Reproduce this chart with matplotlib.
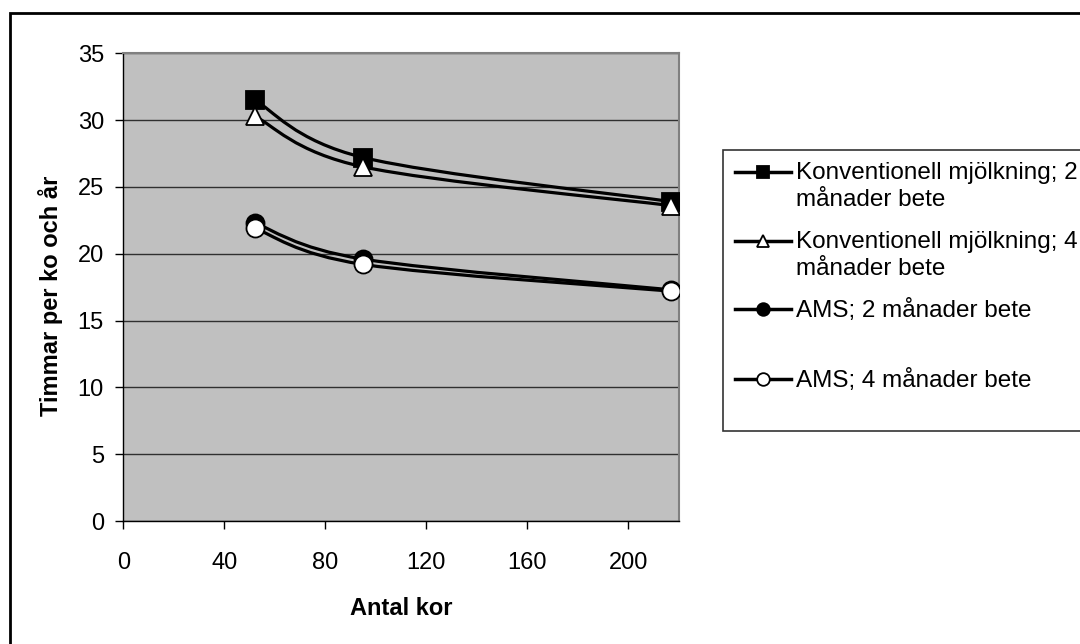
import numpy as np
import matplotlib
matplotlib.use("Agg")
import matplotlib.pyplot as plt
from matplotlib.path import Path
from matplotlib.patches import PathPatch, Rectangle
from matplotlib.lines import Line2D

plt.rcParams["font.family"] = ["Liberation Sans", "DejaVu Sans"]

# data
antal_kor = [52, 95, 217]
konv_2 = [31.5, 27.2, 23.9]
konv_4 = [30.3, 26.5, 23.6]
ams_2 = [22.3, 19.6, 17.3]
ams_4 = [21.9, 19.2, 17.2]

labels = [
    "Konventionell mjölkning; 2\nmånader bete",
    "Konventionell mjölkning; 4\nmånader bete",
    "AMS; 2 månader bete\n ",
    "AMS; 4 månader bete\n ",
]
markers = ["s", "^", "o", "o"]
faces = ["black", "white", "black", "white"]

x_ticks = [0, 40, 80, 120, 160, 200]
y_ticks = [0, 5, 10, 15, 20, 25, 30, 35]


def smooth_path(xs, ys):
    # Excel-like smoothed line: cubic Bezier through the points
    pts = np.column_stack([xs, ys]).astype(float)
    ext = np.vstack([pts[0], pts, pts[-1]])
    verts = [pts[0]]
    codes = [Path.MOVETO]
    for i in range(len(pts) - 1):
        p0, p1, p2, p3 = ext[i], ext[i + 1], ext[i + 2], ext[i + 3]
        verts += [p1 + (p2 - p0) / 6, p2 - (p3 - p1) / 6, p2]
        codes += [Path.CURVE4] * 3
    return Path(verts, codes)


def main():
    W, H = 1080, 644
    fig = plt.figure(figsize=(W / 100, H / 100), dpi=100)
    left, right, top, bottom = 123.3, 679, 53.3, 521
    ax = fig.add_axes([left / W, 1 - bottom / H, (right - left) / W, (bottom - top) / H])
    ax.set_facecolor("#C0C0C0")

    series = [konv_2, konv_4, ams_2, ams_4]
    handles = []
    for i, ys in enumerate(series):
        patch = PathPatch(smooth_path(antal_kor, ys), fill=False, ec="black",
                          lw=2.3, zorder=3 + 2 * i)
        ax.add_patch(patch)
        ax.plot(antal_kor, ys, ls="none", marker=markers[i], ms=13,
                mfc=faces[i], mec="black", mew=1.3, zorder=4 + 2 * i)
        handles.append(Line2D([], [], color="black", lw=2.5, marker=markers[i],
                              ms=13, mfc=faces[i], mec="black", mew=1.3))

    ax.set_xlim(0, 220)
    ax.set_ylim(0, 35)
    ax.set_xticks(x_ticks)
    ax.set_yticks(y_ticks)
    ax.yaxis.grid(True, color="#303030", lw=1)
    ax.set_axisbelow(True)

    ax.tick_params(axis="both", direction="out", length=6, width=1, labelsize=17, colors="black")
    ax.tick_params(axis="x", pad=16)
    ax.tick_params(axis="y", pad=8)

    for side in ["left", "bottom"]:
        ax.spines[side].set_color("black")
        ax.spines[side].set_linewidth(1)
    for side in ["top", "right"]:
        ax.spines[side].set_color("#808080")
        ax.spines[side].set_linewidth(1.5)

    ax.set_xlabel("Antal kor", fontsize=17, fontweight="bold")
    ax.xaxis.set_label_coords(0.5, -0.163)
    ax.set_ylabel("Timmar per ko och år", fontsize=17, fontweight="bold")
    ax.yaxis.set_label_coords(-0.109, 0.482)

    leg = fig.legend(handles, labels, loc="upper left",
                     bbox_to_anchor=(723 / W, 1 - 150 / H), borderaxespad=0,
                     fontsize=17.5, frameon=True, fancybox=False, shadow=False,
                     handlelength=2.3, handletextpad=0.2, handleheight=1.1,
                     markerscale=0.7, labelspacing=0.8, borderpad=0.5)
    leg.get_frame().set_edgecolor("black")
    leg.get_frame().set_linewidth(1.2)
    for t in leg.get_texts():
        t.set_linespacing(1.3)
    # put the handle on the first text line, like the original
    for col in leg._legend_handle_box.get_children():
        for item in col.get_children():
            item.align = "top"

    # outer chart border
    fig.patches.append(Rectangle((10 / W, -0.1), 1.2, 1 - 13 / H + 0.1,
                                 transform=fig.transFigure, fill=False,
                                 ec="black", lw=2))

    fig.savefig("out.png", dpi=100)


if __name__ == "__main__":
    main()
